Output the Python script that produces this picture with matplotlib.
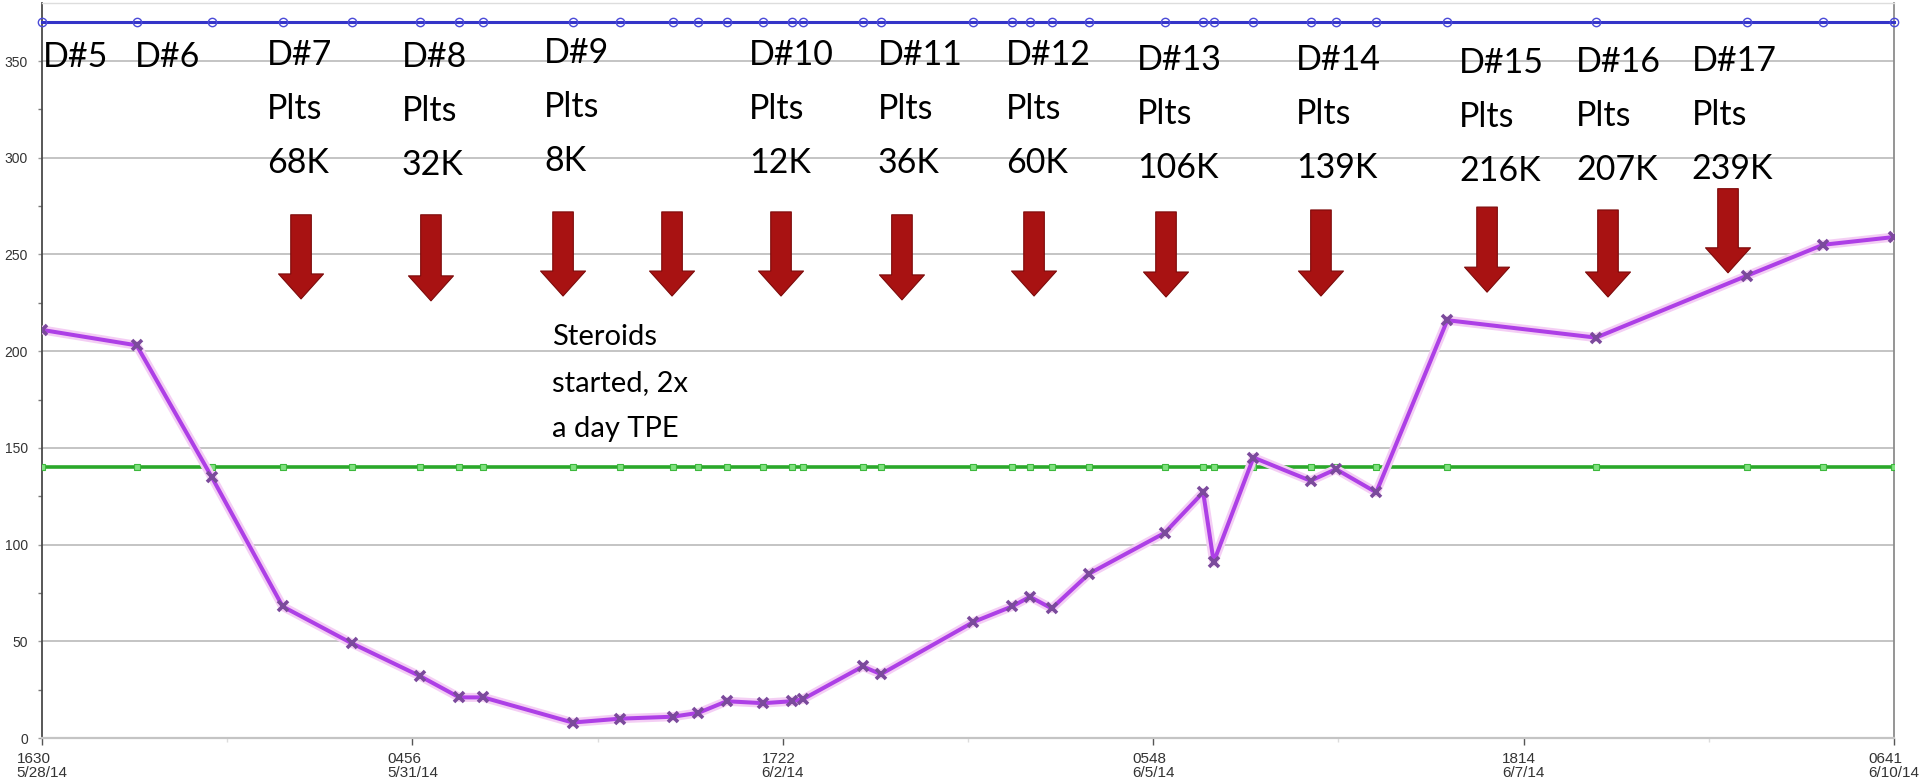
import pandas as pd
import matplotlib
matplotlib.use('Agg')
import matplotlib.pyplot as plt
import matplotlib.dates as mdates

# platelet draws (x1000/uL), 5/28/14 - 6/10/14
draw_times = [
    '2014-05-28 16:30', '2014-05-29 07:57', '2014-05-29 20:11', '2014-05-30 07:46',
    '2014-05-30 19:02', '2014-05-31 06:11', '2014-05-31 12:35', '2014-05-31 16:30',
    '2014-06-01 07:05', '2014-06-01 14:48', '2014-06-01 23:24', '2014-06-02 03:35',
    '2014-06-02 08:13', '2014-06-02 14:11', '2014-06-02 18:50', '2014-06-02 20:37',
    '2014-06-03 06:25', '2014-06-03 09:23', '2014-06-04 00:29', '2014-06-04 06:46',
    '2014-06-04 09:42', '2014-06-04 13:15', '2014-06-04 19:22', '2014-06-05 07:40',
    '2014-06-05 13:58', '2014-06-05 15:41', '2014-06-05 22:10', '2014-06-06 07:29',
    '2014-06-06 11:38', '2014-06-06 18:12', '2014-06-07 05:48', '2014-06-08 06:04',
    '2014-06-09 06:41', '2014-06-09 19:07', '2014-06-10 06:41',
]
platelets = [211, 203, 135, 68, 49, 32, 21, 21, 8, 10, 11, 13, 19, 18, 19, 20, 37, 33,
             60, 68, 73, 67, 85, 106, 127, 91, 145, 133, 139, 127, 216, 207, 239, 255, 259]
ref_high = 370
ref_low = 140

tick_times = ['2014-05-28 16:30', '2014-05-31 04:56', '2014-06-02 17:22',
              '2014-06-05 05:48', '2014-06-07 18:14', '2014-06-10 06:41']
tick_labels = ['1630\n5/28/14', '0456\n5/31/14', '1722\n6/2/14',
               '0548\n6/5/14', '1814\n6/7/14', '0641\n6/10/14']

# day notes: (lines, time of left edge, baseline of first line)
notes = [
    (['D#5'], '2014-05-28 16:40', 347),
    (['D#6'], '2014-05-29 07:42', 347),
    (['D#7', 'Plts', '68K'], '2014-05-30 05:12', 348),
    (['D#8', 'Plts', '32K'], '2014-05-31 03:12', 347),
    (['D#9', 'Plts', '8K'], '2014-06-01 02:24', 349),
    (['D#10', 'Plts', '12K'], '2014-06-02 11:54', 348),
    (['D#11', 'Plts', '36K'], '2014-06-03 08:54', 348),
    (['D#12', 'Plts', '60K'], '2014-06-04 05:48', 348),
    (['D#13', 'Plts', '106K'], '2014-06-05 03:12', 345.5),
    (['D#14', 'Plts', '139K'], '2014-06-06 05:06', 345.5),
    (['D#15', 'Plts', '216K'], '2014-06-07 07:42', 344),
    (['D#16', 'Plts', '207K'], '2014-06-08 02:48', 344.5),
    (['D#17', 'Plts', '239K'], '2014-06-08 21:42', 345),
]
steroid_note = (['Steroids', 'started, 2x', 'a day TPE'], '2014-06-01 03:42', 203)

# TPE arrows: (time, top, tip)
arrows = [
    ('2014-05-30 10:46', 270.5, 227), ('2014-05-31 07:58', 270.5, 226),
    ('2014-06-01 05:31', 272, 228.5), ('2014-06-01 23:18', 272, 228.5),
    ('2014-06-02 17:05', 272, 228.5), ('2014-06-03 12:49', 270.5, 226.5),
    ('2014-06-04 10:22', 272, 228.5), ('2014-06-05 07:54', 272, 228),
    ('2014-06-06 09:11', 273, 228.5), ('2014-06-07 12:17', 274.5, 230.5),
    ('2014-06-08 08:01', 273, 228), ('2014-06-09 03:36', 284, 240.5),
]

x = mdates.date2num(pd.to_datetime(draw_times))
ticks = mdates.date2num(pd.to_datetime(tick_times))

fig = plt.figure(figsize=(19.19, 7.81), dpi=100)
ax = fig.add_axes([42 / 1919, 1 - 738 / 781, 1852 / 1919, 735 / 781])

ax.set_xlim(x[0], x[-1])
ax.set_ylim(0, 380)

ax.set_yticks(range(0, 351, 50))
ax.set_yticks(range(25, 351, 50), minor=True)
ax.set_xticks(ticks)
ax.set_xticks((ticks[:-1] + ticks[1:]) / 2, minor=True)
ax.set_xticklabels(tick_labels, multialignment='left', linespacing=1.0,
                   family=['Liberation Sans Narrow', 'Liberation Sans'], fontsize=11, color='#333333')
for lab in ax.get_yticklabels():
    lab.set_family(['Liberation Sans Narrow', 'Liberation Sans'])
    lab.set_fontsize(10)
    lab.set_color('#333333')

ax.tick_params(axis='y', which='major', length=3, width=1, color='#999999', pad=7)
ax.tick_params(axis='y', which='minor', length=3, width=1, color='#777777')
ax.tick_params(axis='x', which='major', length=5, width=1, color='#555555', pad=5)
ax.tick_params(axis='x', which='minor', length=3, width=1, color='#dddddd')

ax.grid(axis='y', which='major', color='#c4c4c4', linewidth=1.4, zorder=0)
ax.set_axisbelow(True)

ax.spines['left'].set_color('#4a4a4a')
ax.spines['left'].set_linewidth(1.3)
ax.spines['right'].set_color('#8c8c8c')
ax.spines['right'].set_linewidth(1.3)
ax.spines['bottom'].set_color('#c4c4c4')
ax.spines['bottom'].set_linewidth(1.6)
ax.spines['top'].set_color('#dddddd')
ax.spines['top'].set_linewidth(1.0)

# reference lines
ax.plot(x, [ref_low] * len(x), color='#2aa82a', linewidth=2.6, marker='s', markersize=4.5,
        markerfacecolor='#7fe07f', markeredgecolor='#3cb83c', markeredgewidth=0.8, zorder=3)
ax.plot(x, [ref_high] * len(x), color='#3434c8', linewidth=2.2, marker='o', markersize=6,
        markerfacecolor='none', markeredgecolor='#4a4ad8', markeredgewidth=1.0, zorder=3,
        clip_on=False)

# platelet count with soft halo
ax.plot(x, platelets, color='#f4cef4', linewidth=6.5, solid_capstyle='round', zorder=4)
ax.plot(x, platelets, color='#ad3fe6', linewidth=2.9, marker='x', markersize=7.5,
        markeredgecolor='#7b4a9c', markeredgewidth=2.6, zorder=5)

for t, top, tip in arrows:
    tn = mdates.date2num(pd.Timestamp(t))
    ax.annotate('', xy=(tn, tip), xytext=(tn, top),
                arrowprops=dict(arrowstyle='simple,head_length=0.9,head_width=1.62,tail_width=0.74',
                                mutation_scale=20, facecolor='#a81212', edgecolor='#7c0a0a',
                                linewidth=0.8, shrinkA=0, shrinkB=0),
                zorder=6)

line_step = 27.9
for lines, t, yb in notes:
    tn = mdates.date2num(pd.Timestamp(t))
    for i, s in enumerate(lines):
        ax.text(tn, yb - i * line_step, s, family='Lato', fontsize=24.5,
                ha='left', va='baseline', color='black', zorder=7)

lines, t, yb = steroid_note
tn = mdates.date2num(pd.Timestamp(t))
for i, s in enumerate(lines):
    ax.text(tn, yb - i * 23.8, s, family='Lato', fontsize=21,
            ha='left', va='baseline', color='black', zorder=7)

fig.savefig('out.png', dpi=100)
